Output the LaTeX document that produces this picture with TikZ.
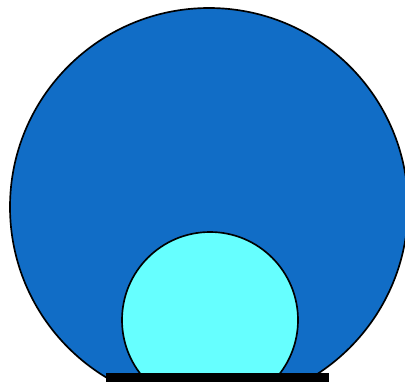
\documentclass[tikz,border=0pt]{standalone}
\usepackage{tikz}
\usepackage{xcolor}
\definecolor{bigblue}{HTML}{116DC6}
\definecolor{lightcyan}{HTML}{66FFFF}

\begin{document}
\begin{tikzpicture}[x=0.03cm,y=-0.03cm]
\useasboundingbox (0,0) rectangle (405,381);
\clip (0,0) rectangle (405,381);
\fill[white] (0,0) rectangle (405,381);
\filldraw[fill=bigblue,draw=black,line width=0.05cm] (209,207) circle (199);
\filldraw[fill=lightcyan,draw=black,line width=0.05cm] (210,320) circle (88);
\fill[black] (106,373) rectangle (329,390);
\end{tikzpicture}
\end{document}
